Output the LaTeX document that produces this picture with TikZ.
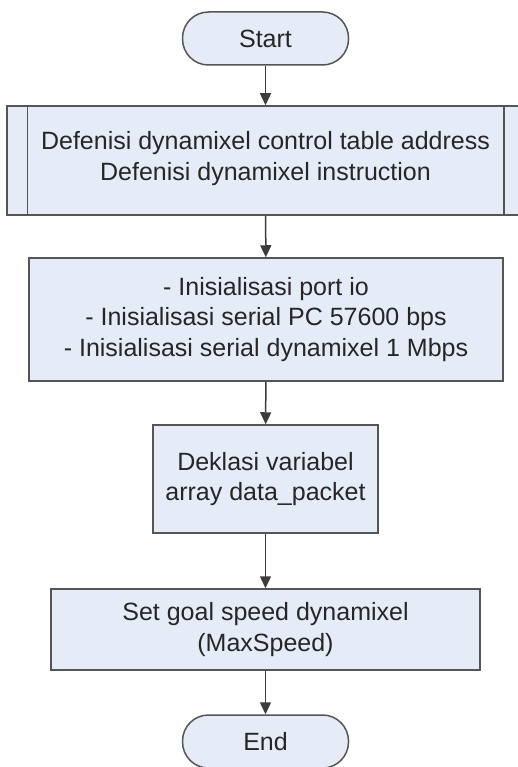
\documentclass[tikz,border=0pt]{standalone}
\usepackage{fontspec}
\setmainfont{Liberation Sans}
\usetikzlibrary{arrows.meta}
\definecolor{boxfill}{RGB}{230,236,247}
\definecolor{edgecol}{RGB}{85,85,85}
\definecolor{arrcol}{RGB}{60,60,60}
\begin{document}
\begin{tikzpicture}[x=1pt,y=-1pt,
  every node/.style={font=\fontsize{25}{30.5}\selectfont, text=black!85},
  shapebase/.style={draw=edgecol, line width=1.5pt, fill=boxfill, rectangle, align=center, inner sep=0pt},
  proc/.style={shapebase},
  term/.style={shapebase, rounded corners=26pt, minimum width=166pt, minimum height=53pt},
  arr/.style={draw=arrcol, line width=1.5pt, -{Triangle[length=12pt,width=11pt]}}]
\path[use as bounding box, fill=white] (0,0) rectangle (518,767);
\node[term] (start) at (265.5,38.5) {Start};
\node[proc, minimum width=517pt, minimum height=109pt] (b1) at (265.5,160.5)
  {Defenisi dynamixel control table address\\Defenisi dynamixel instruction\\[-21pt]};
\draw[draw=edgecol, line width=1.5pt] ([xshift=21pt]b1.north west) -- ([xshift=21pt]b1.south west)
  ([xshift=-21pt]b1.north east) -- ([xshift=-21pt]b1.south east);
\node[proc, minimum width=474pt, minimum height=123pt] (b2) at (266,319.5)
  {- Inisialisasi port io\\- Inisialisasi serial PC 57600 bps\\- Inisialisasi serial dynamixel 1 Mbps};
\node[proc, minimum width=225pt, minimum height=108pt] (b3) at (265.5,479)
  {Deklasi variabel\\array data\_packet};
\node[proc, minimum width=429pt, minimum height=81pt] (b4) at (265.5,629.5)
  {Set goal speed dynamixel\\(MaxSpeed)};
\node[term] (end) at (265.5,741.5) {End};
\draw[arr] (start) -- (b1);
\draw[arr] (b1) -- (b2);
\draw[arr] (b2) -- (b3);
\draw[arr] (b3) -- (b4);
\draw[arr] (b4) -- (end);
\end{tikzpicture}
\end{document}
